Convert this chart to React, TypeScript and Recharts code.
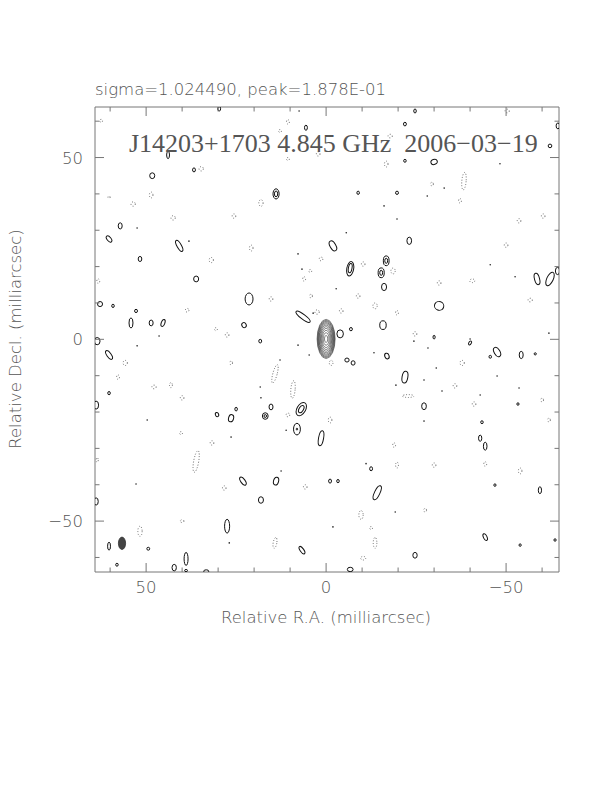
import { ScatterChart, Scatter, XAxis, YAxis } from "recharts";

// map limits in milliarcsec (R.A. runs right to left)
const X_MAX = 64.2;
const X_MIN = -64.7;
const Y_MAX = 63.9;
const Y_MIN = -64.0;

const xTicks = [60, 50, 40, 30, 20, 10, 0, -10, -20, -30, -40, -50, -60];
const yTicks = [60, 50, 40, 30, 20, 10, 0, -10, -20, -30, -40, -50, -60];
const majorTicks = [50, 0, -50];

// positive contours: [ra, dec, semi-axis ra, semi-axis dec, tilt deg]
const positiveContours = [
  [29.7, 63.4, 0.4, 0.6, 0], [43.9, 50.7, 0.4, 1.0, 0], [36.7, 46.6, 0.4, 0.55, 0],
  [48.3, 45.0, 0.7, 0.8, 0], [57.2, 31.2, 0.55, 0.85, 0], [60.3, 27.6, 0.55, 1.0, -40],
  [40.8, 25.7, 0.6, 1.7, -30], [51.7, 22.1, 0.5, 0.7, 0], [36.1, 16.6, 0.7, 0.8, 0],
  [21.4, 11.1, 1.1, 1.65, 0], [62.8, 9.7, 0.7, 0.7, 0], [59.2, 9.2, 0.35, 0.45, 0],
  [52.8, 7.8, 0.4, 0.45, 0], [54.2, 4.5, 0.55, 1.4, 0], [48.6, 4.5, 0.55, 0.8, 0],
  [45.3, 4.5, 0.5, 1.0, 20], [22.8, 3.9, 0.6, 0.7, -30], [5.6, 58.2, 0.4, 0.7, 0],
  [13.9, 40.0, 0.85, 1.4, 0], [13.9, 40.0, 0.45, 0.8, 0], [-8.9, 40.3, 0.35, 0.45, 0],
  [-19.7, 40.3, 0.4, 0.45, 0], [-1.9, 25.7, 0.8, 1.5, -30], [-6.7, 19.4, 0.95, 2.0, 10],
  [-6.7, 19.6, 0.5, 1.3, 10], [-16.7, 21.6, 0.8, 1.35, 0], [-16.7, 21.6, 0.4, 0.7, 0],
  [-15.3, 18.3, 0.85, 1.35, 0], [-15.3, 18.3, 0.4, 0.7, 0], [-16.1, 14.4, 0.7, 1.0, 0],
  [6.4, 6.2, 0.65, 2.4, -53], [-15.8, 3.9, 0.9, 1.2, 0], [-3.9, 1.5, 0.9, 1.1, 0],
  [-6.9, 2.8, 0.4, 0.45, 0], [-24.7, 62.8, 0.35, 0.55, 0], [-21.9, 59.2, 0.4, 0.5, 0],
  [-64.4, 58.7, 0.5, 0.8, 0], [-62.2, 53.2, 0.5, 0.5, 0], [-21.9, 49.1, 0.35, 0.4, 0],
  [-30.0, 48.8, 0.9, 0.7, -20], [-23.1, 27.1, 0.65, 1.0, 0], [-58.6, 16.6, 0.7, 1.6, -15],
  [-62.2, 16.6, 0.9, 2.0, 25], [-64.3, 18.8, 0.6, 1.0, 0], [-31.4, 9.2, 1.3, 1.2, 20],
  [-30.0, 0.6, 0.3, 0.5, 0], [63.6, -0.5, 0.8, 1.0, 0], [60.3, -4.3, 0.6, 1.4, -35],
  [60.3, -14.8, 0.35, 0.45, 0], [63.9, -18.1, 0.7, 1.1, 0], [25.0, -19.2, 0.35, 0.5, 0],
  [30.3, -20.7, 0.45, 0.6, -20], [26.4, -21.7, 0.7, 1.0, 15], [23.1, -39.0, 0.6, 1.3, -35],
  [63.9, -44.6, 0.6, 1.0, 0], [27.5, -51.4, 0.7, 1.9, 0], [60.3, -56.9, 0.4, 1.1, 0],
  [49.4, -57.6, 0.4, 0.4, 0], [38.9, -60.4, 0.55, 1.8, 0], [58.1, -62.0, 0.35, 0.4, 0],
  [42.2, -62.8, 0.6, 0.9, 0], [38.9, -63.6, 0.4, 0.3, 0], [33.3, -63.8, 0.7, 0.4, 0],
  [18.3, -0.5, 0.4, 0.5, 0], [-5.8, -5.7, 0.6, 0.55, 0], [-7.5, -6.5, 0.55, 0.6, 0],
  [-16.9, -4.6, 0.6, 0.8, -20], [6.9, -19.2, 1.2, 2.0, 30], [6.9, -19.2, 0.6, 1.1, 30],
  [16.9, -21.1, 0.8, 0.9, 0], [16.9, -21.1, 0.35, 0.4, 0], [15.3, -18.6, 0.55, 0.8, 0],
  [8.1, -24.7, 0.95, 1.6, 0], [8.1, -24.7, 0.2, 0.25, 0], [1.4, -27.2, 0.7, 2.1, 10],
  [-12.5, -35.6, 0.4, 0.55, 0], [13.9, -39.0, 0.7, 1.1, 15], [-1.1, -39.0, 0.4, 0.55, 0],
  [-3.3, -39.0, 0.35, 0.45, 0], [-14.2, -42.2, 0.75, 2.1, 25], [18.1, -44.2, 0.7, 0.9, 0],
  [6.7, -58.0, 0.5, 1.2, -35], [-6.7, -63.3, 0.8, 0.6, 0], [-40.0, -1.0, 0.35, 0.6, 30],
  [-47.5, -3.5, 0.8, 1.4, -30], [-45.6, -4.8, 0.35, 0.4, 0], [-54.2, -4.3, 0.55, 1.0, 0],
  [-58.1, -4.0, 0.3, 0.3, 0], [-21.9, -10.4, 0.8, 1.65, 10], [-27.2, -18.4, 0.65, 0.95, 0],
  [-53.3, -17.8, 0.3, 0.35, 0], [-43.3, -22.8, 0.35, 0.4, 0], [-42.8, -27.2, 0.45, 0.85, 0],
  [-44.2, -29.4, 0.5, 1.1, 0], [-46.9, -40.1, 0.3, 0.35, 0], [-59.4, -41.5, 0.45, 0.95, 0],
  [-44.2, -54.4, 0.5, 1.0, -25], [-53.9, -56.6, 0.3, 0.35, 0], [-63.6, -55.2, 0.3, 0.35, 0],
  [-24.7, -59.4, 0.6, 0.8, 0],
];

// negative (dotted) contours, same layout
const negativeContours = [
  [34.7, 46.9, 0.6, 0.6, 0], [48.6, 39.7, 0.5, 0.8, 0], [53.6, 37.2, 0.6, 0.6, 0],
  [60.3, 39.1, 0.3, 0.3, 0], [42.5, 33.4, 0.6, 0.6, 0], [25.6, 33.9, 0.5, 0.6, 0],
  [31.9, 21.8, 0.6, 0.7, 0], [20.8, 25.1, 0.5, 0.8, 0], [63.3, 16.0, 0.4, 0.6, 0],
  [38.6, 8.0, 0.5, 0.5, 0], [30.6, 2.8, 0.4, 0.4, 0], [27.5, 1.2, 0.5, 0.6, 0],
  [62.5, 60.1, 0.4, 0.4, 0], [10.6, 59.8, 0.4, 0.6, 0], [12.8, 57.3, 0.4, 0.4, 0],
  [2.2, 51.0, 0.5, 0.6, 0], [10.6, 49.6, 0.4, 0.4, 0], [-17.8, 55.9, 0.6, 0.5, 0],
  [-16.7, 48.2, 0.5, 0.8, 0], [18.1, 37.5, 0.6, 0.9, 0], [1.4, 22.1, 0.5, 0.5, 0],
  [-10.3, 20.7, 0.5, 0.6, 0], [-18.6, 18.8, 0.6, 0.8, 0], [4.4, 18.8, 0.4, 0.4, 0],
  [6.1, 16.6, 0.4, 0.6, 0], [15.3, 11.1, 0.5, 0.6, 0], [4.2, 11.9, 0.4, 0.5, 0],
  [-8.9, 11.9, 0.5, 0.6, 0], [-13.6, 9.2, 0.6, 0.8, 0], [-19.7, 7.3, 0.4, 0.6, 0],
  [2.5, 7.5, 0.6, 0.6, 0], [-4.2, 7.8, 0.5, 0.6, 0], [-50.3, 62.8, 0.6, 0.5, 0],
  [-38.3, 43.5, 0.6, 2.4, 5], [-37.2, 38.1, 0.4, 0.6, 0], [-29.4, 42.7, 0.4, 0.5, 0],
  [-53.6, 32.6, 0.5, 0.6, 0], [-60.3, 33.9, 0.5, 0.6, 0], [-50.0, 25.9, 0.5, 0.6, 0],
  [-31.4, 15.5, 0.5, 0.6, 0], [-40.6, 16.1, 0.7, 0.5, 0], [-56.7, 10.8, 0.6, 0.5, 0],
  [-24.7, 1.5, 0.5, 0.6, 0], [55.8, -6.5, 0.6, 0.7, 0], [57.8, -10.4, 0.4, 0.6, 0],
  [47.8, -13.1, 0.6, 0.5, 0], [43.1, -12.6, 0.4, 0.7, 0], [40.0, -16.1, 0.5, 0.6, 0],
  [26.4, -6.5, 0.4, 0.5, 0], [40.3, -25.8, 0.4, 0.4, 0], [31.7, -28.5, 0.5, 0.6, 0],
  [36.1, -33.6, 0.7, 3.0, 10], [63.6, -33.2, 0.3, 0.6, 0], [28.3, -40.9, 0.5, 0.6, 0],
  [40.0, -50.0, 0.5, 0.4, 0], [51.7, -52.8, 0.6, 1.4, 0], [-1.4, -6.5, 0.5, 0.7, 0],
  [14.2, -9.5, 0.6, 2.6, 15], [9.2, -13.8, 0.6, 2.4, 5], [10.6, -20.8, 0.5, 0.5, 0],
  [-1.1, -22.2, 0.5, 0.8, 0], [-18.9, -29.1, 0.4, 0.6, 0], [-19.7, -34.6, 0.4, 0.8, 0],
  [5.8, -40.6, 0.5, 0.6, 0], [-9.7, -48.3, 0.6, 1.2, 0], [-12.5, -51.9, 0.4, 0.4, 0],
  [-13.6, -56.0, 0.5, 1.5, 0], [14.2, -56.0, 0.5, 1.5, 10], [-10.3, -60.2, 0.7, 0.5, 0],
  [-37.8, -6.5, 0.6, 0.7, 0], [-35.8, -12.8, 0.5, 0.6, 0], [-22.8, -15.6, 1.6, 0.4, 0],
  [-41.1, -17.8, 0.5, 0.6, 0], [-60.0, -16.7, 0.4, 0.5, 0], [-61.9, -22.2, 0.4, 0.5, 0],
  [-30.0, -34.6, 0.5, 0.6, 0], [-44.2, -34.3, 0.4, 0.6, 0], [-53.9, -36.2, 0.5, 0.8, 0],
  [-27.5, -47.0, 0.4, 0.5, 0],
];

// single-pixel contours
const specks = [
  [52.5, 30.6], [38.1, 27.0], [46.4, 0.9], [7.5, 62.8], [-16.1, 36.7], [-19.7, 33.1],
  [-5.6, 29.3], [7.8, 23.5], [6.7, 19.3], [-2.8, 13.9], [3.6, 7.2], [-48.3, 48.3],
  [-45.6, 20.5], [-52.5, 17.2], [-40.0, 0.1], [-32.8, 41.6], [-28.1, 39.4], [-61.9, 1.7],
  [52.5, -1.8], [49.7, -22.2], [26.4, -26.9], [52.8, -39.8], [26.9, -56.0], [7.8, -1.6],
  [12.8, -5.7], [4.7, -4.3], [-13.3, -3.7], [-19.4, -12.6], [18.3, -13.1], [18.1, -16.1],
  [11.1, -25.0], [-11.1, -34.2], [12.5, -36.2], [-28.3, -2.4], [-30.6, -7.9], [-27.2, -11.2],
  [-47.5, -10.1], [-32.2, -14.2], [-53.6, -13.4], [-42.8, -15.3], [-27.2, -22.5],
  [-24.4, -0.5], [-19.2, -47.5], [-1.9, -51.6],
];

// core: nested levels as fractions of the outer contour
const coreCenter = [0, 0.1];
const coreOuter = [2.5, 5.4];
const coreLevels = [1, 0.95, 0.9, 0.84, 0.78, 0.71, 0.63, 0.54, 0.44, 0.32, 0.18];

// restoring beam, bottom-left corner
const beam = [56.7, -56.1, 1.0, 1.7, 0];

const CHART_W = 560;
const CHART_H = 640;
const MARGIN = { top: 90, right: 0, bottom: 36, left: 37 };
const Y_AXIS_W = 50;
const R_AXIS_W = 9;
const X_AXIS_H = 40;
const T_AXIS_H = 9;
const PLOT_W = CHART_W - MARGIN.left - MARGIN.right - Y_AXIS_W - R_AXIS_W;
const PLOT_H = CHART_H - MARGIN.top - MARGIN.bottom - X_AXIS_H - T_AXIS_H;
const PX_X = PLOT_W / (X_MAX - X_MIN);
const PX_Y = PLOT_H / (Y_MAX - Y_MIN);

const toPoints = (rows: number[][]) =>
  rows.map((r) => ({ x: r[0], y: r[1], a: r[2], b: r[3], ang: r[4] || 0 }));

const posData = toPoints(positiveContours);
const negData = toPoints(negativeContours);
const speckData = specks.map((s) => ({ x: s[0], y: s[1] }));
const coreData = coreLevels.map((f) => ({
  x: coreCenter[0],
  y: coreCenter[1],
  a: coreOuter[0] * f,
  b: coreOuter[1] * f,
  ang: 0,
}));
const beamData = toPoints([beam]);

const sans = "'DejaVu Sans', sans-serif";
const axisColor = "#777";
const textColor = "#555";

function makeContour(stroke: string, width: number, dash?: string, fill?: string) {
  return (props: any) => {
    const { cx, cy, payload } = props;
    if (cx == null || cy == null) return <g />;
    return (
      <ellipse
        cx={cx}
        cy={cy}
        rx={payload.a * PX_X}
        ry={payload.b * PX_Y}
        transform={`rotate(${payload.ang} ${cx} ${cy})`}
        fill={fill || "none"}
        stroke={stroke}
        strokeWidth={width}
        strokeDasharray={dash}
      />
    );
  };
}

const Speck = (props: any) => {
  const { cx, cy } = props;
  if (cx == null || cy == null) return <g />;
  return <circle cx={cx} cy={cy} r={0.8} fill="#222" />;
};

const tickLen = (v: number) => (majorTicks.includes(v) ? 9 : 4.5);

const BottomTick = (props: any) => {
  const { x, y, payload } = props;
  const v = payload.value;
  const label = v < 0 ? `\u2212${-v}` : `${v}`;
  return (
    <g>
      <line x1={x} y1={y} x2={x} y2={y - tickLen(v)} stroke={axisColor} />
      {majorTicks.includes(v) && (
        <text x={x} y={y + 21} textAnchor="middle" fontFamily={sans} fontWeight={200} fontSize={16.5} fill={textColor}>
          {label}
        </text>
      )}
    </g>
  );
};

const TopTick = (props: any) => {
  const { x, y, payload } = props;
  return <line x1={x} y1={y} x2={x} y2={y + tickLen(payload.value)} stroke={axisColor} />;
};

const LeftTick = (props: any) => {
  const { x, y, payload } = props;
  const v = payload.value;
  const label = v < 0 ? `\u2212${-v}` : `${v}`;
  return (
    <g>
      <line x1={x} y1={y} x2={x + tickLen(v)} y2={y} stroke={axisColor} />
      {majorTicks.includes(v) && (
        <text x={x - 12} y={y + 6} textAnchor="end" fontFamily={sans} fontWeight={200} fontSize={16.5} fill={textColor}>
          {label}
        </text>
      )}
    </g>
  );
};

const RightTick = (props: any) => {
  const { x, y, payload } = props;
  return <line x1={x} y1={y} x2={x - tickLen(payload.value)} y2={y} stroke={axisColor} />;
};

export default function App() {
  return (
    <div style={{ position: "relative", width: 604, height: 700 }}>
      <ScatterChart width={CHART_W} height={CHART_H} margin={MARGIN}>
        <XAxis
          type="number"
          dataKey="x"
          domain={[X_MIN, X_MAX]}
          reversed
          allowDataOverflow
          ticks={xTicks}
          interval={0}
          height={X_AXIS_H}
          tickSize={0}
          tickMargin={0}
          tickLine={false}
          axisLine={{ stroke: axisColor }}
          tick={(p: any) => <BottomTick {...p} />}
        />
        <XAxis
          xAxisId="top"
          orientation="top"
          type="number"
          dataKey="x"
          domain={[X_MIN, X_MAX]}
          reversed
          allowDataOverflow
          ticks={xTicks}
          interval={0}
          height={T_AXIS_H}
          tickSize={0}
          tickMargin={0}
          tickLine={false}
          axisLine={{ stroke: axisColor }}
          tick={(p: any) => <TopTick {...p} />}
        />
        <YAxis
          type="number"
          dataKey="y"
          domain={[Y_MIN, Y_MAX]}
          allowDataOverflow
          ticks={yTicks}
          interval={0}
          width={Y_AXIS_W}
          tickSize={0}
          tickMargin={0}
          tickLine={false}
          axisLine={{ stroke: axisColor }}
          tick={(p: any) => <LeftTick {...p} />}
        />
        <YAxis
          yAxisId="r"
          orientation="right"
          type="number"
          dataKey="y"
          domain={[Y_MIN, Y_MAX]}
          allowDataOverflow
          ticks={yTicks}
          interval={0}
          width={R_AXIS_W}
          tickSize={0}
          tickMargin={0}
          tickLine={false}
          axisLine={{ stroke: axisColor }}
          tick={(p: any) => <RightTick {...p} />}
        />
        <Scatter data={negData} isAnimationActive={false} shape={makeContour("#555", 0.9, "0.9 1.8")} />
        <Scatter data={posData} isAnimationActive={false} shape={makeContour("#111", 1)} />
        <Scatter data={coreData} isAnimationActive={false} shape={makeContour("#333", 0.6)} />
        <Scatter data={speckData} isAnimationActive={false} shape={Speck} />
        <Scatter data={beamData} isAnimationActive={false} shape={makeContour("#333", 0.8, undefined, "#444")} />
      </ScatterChart>
      <svg
        width={604}
        height={700}
        style={{ position: "absolute", left: 0, top: 0, pointerEvents: "none", overflow: "visible" }}
      >
        <text x={87} y={87} fontFamily={sans} fontWeight={200} fontSize={16.5} fill={textColor}>
          sigma=1.024490, peak=1.878E-01
        </text>
        <text
          x={121}
          y={144}
          fontFamily="'Liberation Serif', serif"
          fontSize={26}
          fill="#555"
          style={{ whiteSpace: "pre" }}
        >
          {"J14203+1703 4.845 GHz  2006\u221203\u221219"}
        </text>
        <text x={318} y={615} textAnchor="middle" fontFamily={sans} fontWeight={200} fontSize={16.5} fill={textColor}>
          Relative R.A. (milliarcsec)
        </text>
        <text
          transform="translate(13, 331) rotate(-90)"
          textAnchor="middle"
          fontFamily={sans}
          fontWeight={200}
          fontSize={16.5}
          fill={textColor}
        >
          Relative Decl. (milliarcsec)
        </text>
      </svg>
    </div>
  );
}
